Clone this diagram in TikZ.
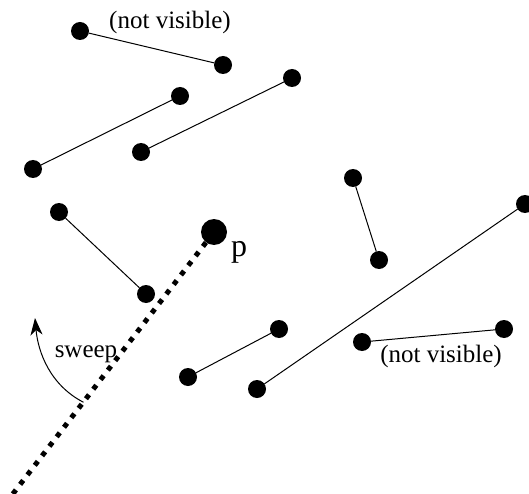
\documentclass[tikz,border=0pt]{standalone}
\usepackage{fontspec}
\setmainfont{Liberation Serif}
\usetikzlibrary{arrows.meta,calc}

\begin{document}
\begin{tikzpicture}[x=1pt,y=-1pt,line cap=round,line join=round,
  every node/.style={font=\fontsize{25}{30}\selectfont},
  dot/.style={circle,fill=black,inner sep=0pt,minimum size=18pt},
  bigdot/.style={dot,minimum size=26pt},
  seg/.style={line width=1pt},
  ray/.style={line width=5pt,line cap=butt,dash pattern=on 5pt off 7pt}]
  \useasboundingbox (0,0) rectangle (529,494);
  % segments
  \node[dot] (a1) at (80,31) {};
  \node[dot] (a2) at (223,65) {};
  \node[dot] (b1) at (180,96) {};
  \node[dot] (b2) at (33,169) {};
  \node[dot] (c1) at (292,78) {};
  \node[dot] (c2) at (141,152) {};
  \node[dot] (d1) at (59,212) {};
  \node[dot] (d2) at (146,294) {};
  \node[dot] (e1) at (353,178) {};
  \node[dot] (e2) at (379,260) {};
  \node[dot] (f1) at (525,204) {};
  \node[dot] (f2) at (257,389) {};
  \node[dot] (g1) at (279,329) {};
  \node[dot] (g2) at (188,377) {};
  \node[dot] (h1) at (362,342) {};
  \node[dot] (h2) at (504,329) {};
  \foreach \u/\v in {a1/a2,b1/b2,c1/c2,d1/d2,e1/e2,f1/f2,g1/g2,h1/h2}
    \draw[seg] (\u) -- (\v);
  \node[anchor=base] (nv1) at (170,29) {(not visible)};
  \node[anchor=base] (nv2) at (441,362) {(not visible)};
  % viewpoint and sweep ray
  \node[bigdot] (p) at (214,232) {};
  \node[anchor=base west,inner sep=0pt,font=\fontsize{32}{36}\selectfont]
    (plab) at (231,256) {p};
  \coordinate (tail) at (12,495);
  \draw[ray] (p) -- (tail);
  \coordinate (s0) at ($(p)!0.647!(tail)$);
  \coordinate (s1) at (35,318);
  \draw[seg,-{Stealth[length=17pt,width=12pt,inset=5pt]}]
    (s0) .. controls (50,385) and (38,352) .. (s1);
  \node[anchor=base] (sw) at (86,357) {sweep};
\end{tikzpicture}
\end{document}
